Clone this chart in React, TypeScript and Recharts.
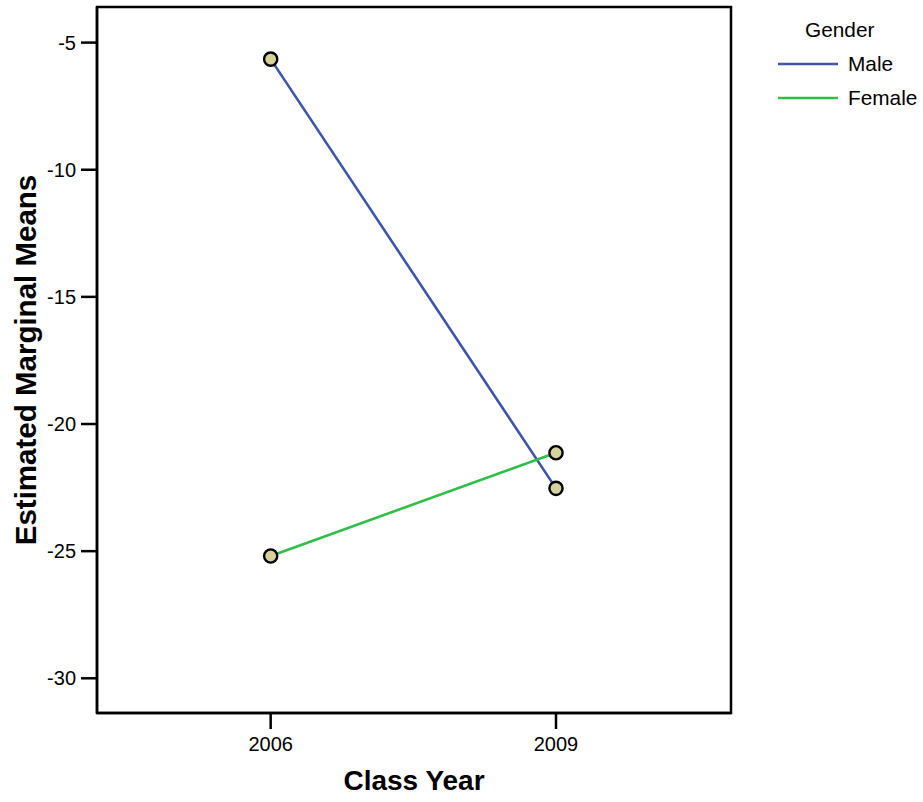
import React from "react";
import {
  LineChart,
  Line,
  XAxis,
  YAxis,
  ReferenceArea,
} from "recharts";

const years = [2006, 2009];
const maleMeans = [-5.65, -22.53];
const femaleMeans = [-25.19, -21.13];
const yTicks = [-30, -25, -20, -15, -10, -5];
const seriesNames = ["Male", "Female"];
const seriesColors = ["#3f56a8", "#2fbf48"];
const legendTitle = "Gender";

const data = years.map((y, i) => ({
  year: y,
  Male: maleMeans[i],
  Female: femaleMeans[i],
}));

const FONT = "'Liberation Sans', Arial, Helvetica, sans-serif";
const X_DOMAIN: [number, number] = [2004.174, 2010.84];
const Y_DOMAIN: [number, number] = [-31.365, -3.6];

const Dot = (props: any) => {
  const { cx, cy } = props;
  if (cx == null || cy == null) return null;
  return <circle cx={cx} cy={cy} r={6.6} fill="#d6d29c" stroke="#000" strokeWidth={2.4} />;
};

const LegendBox = () => (
  <div
    style={{
      position: "absolute",
      left: 778,
      top: 13,
      width: 160,
      fontFamily: FONT,
      fontSize: 20.8,
      color: "#000",
    }}
  >
    <div style={{ position: "relative", height: 34, lineHeight: "34px" }}>
      <span style={{ position: "absolute", left: 27 }}>{legendTitle}</span>
    </div>
    {seriesNames.map((n, i) => (
      <div key={n} style={{ position: "relative", height: 34, lineHeight: "34px" }}>
        <svg width={62} height={34} style={{ position: "absolute", left: 0, top: 0 }}>
          <line x1={0} x2={60} y1={17} y2={17} stroke={seriesColors[i]} strokeWidth={2.6} />
        </svg>
        <span style={{ position: "absolute", left: 70 }}>{n}</span>
      </div>
    ))}
  </div>
);

const YTitle = (props: any) => {
  const vb = props.viewBox || {};
  const cx = 25;
  const cy = vb.y + vb.height / 2;
  return (
    <text
      x={cx}
      y={cy}
      transform={`rotate(-90, ${cx}, ${cy})`}
      textAnchor="middle"
      dominantBaseline="central"
      fontFamily={FONT}
      fontWeight="bold"
      fontSize={29.5}
      fill="#000"
    >
      Estimated Marginal Means
    </text>
  );
};

const XTitle = (props: any) => {
  const vb = props.viewBox || {};
  const cx = vb.x + vb.width / 2;
  return (
    <text
      x={cx}
      y={790}
      textAnchor="middle"
      fontFamily={FONT}
      fontWeight="bold"
      fontSize={28}
      fill="#000"
    >
      Class Year
    </text>
  );
};

export default function App() {
  return (
    <div style={{ position: "absolute", left: 0, top: 0, width: 923, height: 802, background: "#fff" }}>
      <LineChart
        width={923}
        height={802}
        data={data}
        margin={{ top: 7, right: 192, bottom: 0, left: 0 }}
      >
        <XAxis
          dataKey="year"
          type="number"
          domain={X_DOMAIN}
          ticks={years}
          allowDataOverflow
          height={89}
          tickSize={16}
          tickMargin={8}
          axisLine={{ stroke: "#000", strokeWidth: 2.5 }}
          tickLine={{ stroke: "#000", strokeWidth: 2.5 }}
          tick={{ fill: "#000", fontSize: 20, fontFamily: FONT }}
          label={<XTitle />}
        />
        <YAxis
          type="number"
          domain={Y_DOMAIN}
          ticks={yTicks}
          allowDataOverflow
          width={97}
          tickSize={16}
          tickMargin={5}
          axisLine={{ stroke: "#000", strokeWidth: 2.5 }}
          tickLine={{ stroke: "#000", strokeWidth: 2.5 }}
          tick={{ fill: "#000", fontSize: 20, fontFamily: FONT }}
          label={<YTitle />}
        />
        <ReferenceArea
          x1={X_DOMAIN[0]}
          x2={X_DOMAIN[1]}
          y1={Y_DOMAIN[0]}
          y2={Y_DOMAIN[1]}
          fill="none"
          stroke="#000"
          strokeWidth={2.5}
          ifOverflow="visible"
        />
        <Line
          name={seriesNames[0]}
          dataKey="Male"
          stroke={seriesColors[0]}
          strokeWidth={2.6}
          dot={<Dot />}
          activeDot={false}
          isAnimationActive={false}
        />
        <Line
          name={seriesNames[1]}
          dataKey="Female"
          stroke={seriesColors[1]}
          strokeWidth={2.6}
          dot={<Dot />}
          activeDot={false}
          isAnimationActive={false}
        />
      </LineChart>
      <LegendBox />
    </div>
  );
}
